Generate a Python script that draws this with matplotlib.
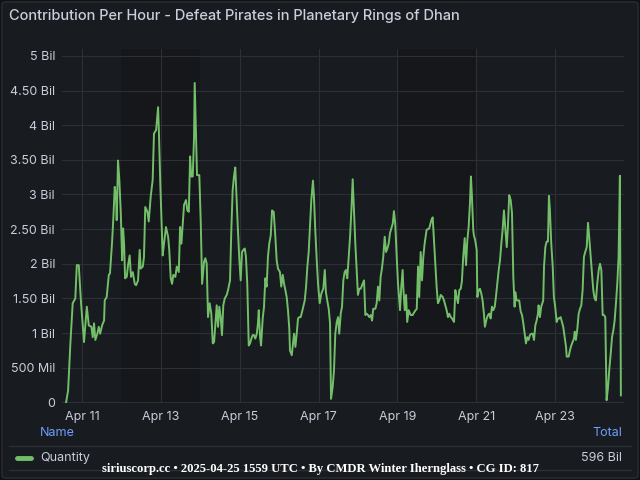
import matplotlib
matplotlib.use("Agg")
import matplotlib.pyplot as plt
import matplotlib.dates as mdates
from matplotlib.lines import Line2D
from matplotlib.patches import FancyBboxPatch
from datetime import datetime, timedelta

# hours since 2025-04-11 00:00, values in billions
hours = [
    -9.7, -8.5, -7.1, -5.7, -4.1, -3.2, -2.0, -0.6, 1.2, 2.9, 4.1, 5.7, 6.5, 7.3, 8.1, 9.3,
    10.2, 11.0, 12.2, 13.4, 13.8, 15.0, 16.3, 17.0, 18.3, 19.1, 19.9, 20.7, 21.1, 21.9, 22.7, 23.6,
    24.4, 25.0, 25.6, 26.2, 27.2, 28.0, 29.0, 29.8, 30.9, 32.1, 32.9, 34.1, 35.1, 35.7, 37.0, 37.7,
    38.5, 39.8, 40.6, 41.8, 43.0, 43.8, 45.1, 46.3, 46.7, 47.7, 49.1, 49.9, 51.1, 52.4, 53.1, 54.0,
    54.8, 55.6, 56.8, 57.7, 58.9, 59.7, 60.5, 61.3, 62.1, 63.3, 64.1, 65.0, 65.8, 66.5, 67.4, 68.2,
    68.6, 69.4, 70.0, 71.4, 72.3, 73.1, 74.3, 75.1, 75.9, 76.7, 77.7, 78.7, 79.6, 80.4, 81.2, 82.0,
    82.8, 83.6, 84.4, 85.2, 86.0, 86.9, 88.1, 88.9, 90.1, 90.9, 91.7, 92.5, 93.3, 94.2, 95.0, 95.8,
    96.6, 97.4, 98.2, 99.1, 99.8, 100.6, 101.5, 102.3, 103.1, 103.9, 104.7, 105.5, 106.4, 107.1, 107.6, 108.4,
    109.0, 110.0, 110.8, 111.6, 112.4, 113.2, 114.0, 114.9, 115.7, 116.7, 117.7, 118.5, 119.3, 120.5, 121.3, 122.2,
    123.0, 123.8, 124.6, 125.4, 126.2, 126.6, 127.7, 128.5, 129.1, 129.9, 130.7, 131.5, 132.3, 133.1, 133.9, 134.7,
    135.6, 136.4, 137.2, 138.0, 138.8, 139.6, 140.6, 141.2, 142.0, 142.9, 143.7, 144.7, 145.7, 146.9, 147.8, 148.5,
    149.3, 150.2, 151.0, 151.6, 152.6, 153.4, 154.2, 155.1, 155.9, 156.6, 157.5, 158.3, 159.1, 159.9, 160.7, 161.5,
    162.4, 163.2, 164.0, 164.8, 165.6, 166.4, 167.2, 168.0, 168.8, 169.7, 170.5, 171.7, 172.5, 173.3, 174.1, 174.9,
    175.8, 176.6, 177.3, 178.6, 179.4, 180.2, 181.0, 181.8, 182.6, 183.4, 184.3, 185.1, 185.9, 186.7, 187.5, 188.3,
    189.2, 189.9, 190.7, 191.6, 192.4, 193.6, 194.4, 195.2, 195.6, 196.5, 197.3, 198.0, 198.9, 200.1, 201.3, 202.5,
    203.8, 204.6, 205.3, 206.2, 207.0, 207.8, 208.6, 209.8, 210.6, 211.4, 212.7, 213.5, 214.3, 215.1, 215.9, 216.7,
    217.5, 218.4, 219.6, 220.4, 221.2, 222.0, 222.8, 223.6, 224.5, 225.3, 226.5, 227.3, 228.1, 228.9, 229.7, 230.6,
    231.3, 232.1, 233.0, 233.8, 234.6, 235.4, 236.2, 236.8, 237.4, 238.2, 238.6, 239.4, 240.3, 240.7, 241.5, 242.3,
    243.1, 243.9, 244.7, 245.3, 246.4, 247.2, 248.0, 248.8, 249.6, 250.4, 251.3, 252.0, 252.8, 253.7, 254.5, 255.3,
    256.1, 256.9, 257.7, 258.6, 259.3, 260.1, 261.0, 261.8, 262.6, 263.4, 263.8, 264.6, 265.4, 266.2, 267.1, 267.9,
    268.7, 269.5, 270.3, 271.1, 271.9, 272.7, 273.5, 274.4, 275.2, 276.0, 276.8, 277.6, 278.0, 278.8, 279.6, 280.8,
    281.3, 282.1, 282.9, 283.7, 284.3, 284.9, 285.7, 286.6, 287.3, 288.1, 289.0, 289.8, 290.6, 291.4, 292.2, 293.0,
    293.9, 294.7, 295.1, 296.3, 297.1, 297.9, 298.7, 299.5, 300.0, 300.7, 301.5, 302.4, 303.2, 304.0, 304.8, 305.6,
    306.4, 307.3, 308.1, 308.8, 309.7, 310.5, 311.3, 312.1, 312.9, 313.7, 314.6, 315.4, 316.2, 317.0, 317.8, 318.6,
    319.4, 320.2, 321.0, 321.9, 322.7, 323.5, 324.3, 325.1, 325.9, 326.7, 327.5, 328.1,
]
quantity = [
    0.00, 0.17, 0.85, 1.43, 1.50, 1.98, 1.98, 1.43, 0.87, 1.38, 1.11, 1.09, 0.94, 1.14, 0.90, 0.99,
    1.09, 0.99, 1.11, 1.18, 1.47, 1.52, 1.84, 1.86, 2.32, 2.68, 3.11, 2.97, 2.63, 3.49, 3.21, 2.73,
    2.05, 2.51, 2.29, 1.79, 1.81, 1.98, 2.12, 1.81, 1.88, 1.71, 1.69, 1.76, 2.20, 1.93, 1.96, 2.10,
    2.82, 2.75, 2.61, 2.97, 3.21, 3.88, 3.93, 4.26, 3.98, 3.11, 2.12, 2.29, 2.53, 2.39, 2.20, 1.79,
    1.71, 1.84, 1.81, 1.96, 1.88, 2.53, 2.29, 2.58, 2.85, 2.92, 2.77, 2.75, 3.55, 3.26, 3.26, 3.83,
    4.61, 3.83, 3.28, 3.28, 2.58, 1.71, 2.03, 2.08, 2.00, 1.23, 1.43, 1.28, 0.85, 0.87, 1.14, 1.40,
    1.09, 1.38, 1.23, 0.97, 1.40, 1.50, 1.55, 1.62, 1.76, 2.49, 3.06, 3.26, 3.39, 2.87, 2.44, 2.05,
    1.76, 2.17, 2.20, 2.22, 2.10, 1.71, 0.82, 0.85, 0.92, 0.97, 0.97, 0.92, 0.99, 1.14, 1.33, 0.94,
    0.82, 1.21, 1.38, 1.79, 1.67, 2.10, 2.29, 2.41, 2.77, 2.75, 2.39, 2.05, 1.93, 1.88, 1.67, 1.84,
    1.71, 1.62, 1.52, 1.33, 1.06, 0.75, 0.68, 0.85, 0.99, 0.80, 0.99, 1.21, 1.23, 1.23, 1.30, 1.38,
    1.47, 1.67, 1.96, 2.17, 2.53, 2.92, 3.20, 2.97, 2.49, 2.05, 1.71, 1.43, 1.57, 1.64, 1.91, 1.59,
    1.47, 1.35, 1.14, 0.05, 0.22, 0.46, 0.99, 1.16, 1.23, 0.99, 1.28, 1.38, 1.76, 1.88, 1.91, 1.79,
    2.10, 2.39, 2.77, 3.22, 2.77, 2.29, 1.91, 1.55, 1.64, 1.64, 1.69, 1.76, 1.26, 1.28, 1.26, 1.23,
    1.26, 1.18, 1.35, 1.35, 1.43, 1.67, 1.47, 1.81, 1.93, 2.10, 2.39, 2.17, 2.22, 2.29, 2.44, 2.51,
    2.58, 2.76, 2.58, 2.10, 1.71, 1.33, 1.67, 1.91, 1.67, 1.33, 1.55, 1.16, 1.33, 1.26, 1.26, 1.31,
    1.35, 1.96, 1.52, 2.17, 1.76, 2.10, 2.29, 2.49, 2.50, 2.51, 2.63, 2.67, 2.34, 2.00, 1.67, 1.43,
    1.47, 1.55, 1.52, 1.47, 1.40, 1.33, 1.23, 1.28, 1.23, 1.21, 1.16, 1.62, 1.52, 1.43, 1.62, 1.64,
    1.75, 2.10, 2.37, 1.98, 2.34, 2.53, 2.87, 3.26, 2.97, 2.49, 2.41, 2.34, 2.20, 1.52, 1.62, 1.64,
    1.57, 1.47, 1.28, 1.09, 1.21, 1.26, 1.28, 1.21, 1.38, 1.33, 1.38, 1.52, 1.71, 1.91, 2.05, 2.29,
    2.49, 2.77, 2.53, 2.24, 2.53, 2.99, 2.92, 2.73, 1.81, 1.38, 1.59, 1.47, 1.47, 1.47, 1.31, 1.26,
    1.14, 0.99, 0.85, 0.94, 0.90, 0.97, 0.99, 0.99, 0.90, 1.11, 1.18, 1.28, 1.40, 1.23, 1.38, 1.47,
    1.96, 2.24, 2.32, 2.32, 2.98, 2.77, 2.29, 1.96, 1.52, 1.38, 1.16, 1.21, 1.21, 1.23, 1.16, 1.09,
    0.94, 0.80, 0.66, 0.66, 0.75, 0.82, 0.87, 0.92, 1.02, 0.90, 1.04, 1.28, 1.35, 1.40, 1.62, 2.10,
    2.17, 2.24, 2.59, 2.39, 2.10, 1.86, 1.62, 1.50, 1.47, 1.71, 1.91, 2.00, 1.91, 1.26, 1.26, 1.23,
    0.03, 0.20, 0.46, 0.70, 0.94, 1.04, 1.18, 1.43, 1.71, 2.10, 3.27, 0.10,
]

weekends = [("2025-04-12", "2025-04-14"), ("2025-04-19", "2025-04-21")]
yticks = [0, 0.5, 1, 1.5, 2, 2.5, 3, 3.5, 4, 4.5, 5]
ylabels = ["0", "500 Mil", "1 Bil", "1.50 Bil", "2 Bil", "2.50 Bil",
           "3 Bil", "3.50 Bil", "4 Bil", "4.50 Bil", "5 Bil"]
series_name = "Quantity"
total = "596 Bil"

plt.rcParams["font.family"] = ["Inter", "DejaVu Sans"]

bg = "#181b1f"
txt = "#ccccdc"
grid_c = "#2c2f35"
green = "#73bf69"

start = datetime(2025, 4, 11)
times = [start + timedelta(hours=h) for h in hours]

fig = plt.figure(figsize=(6.4, 4.8), dpi=100, facecolor="#111217")
panel = FancyBboxPatch((0.003, 0.004), 0.994, 0.992, boxstyle="round,pad=0,rounding_size=0.006",
                       transform=fig.transFigure, facecolor=bg, edgecolor="#2a2d33", lw=1, zorder=-5)
fig.patches.append(panel)

ax = fig.add_axes([0.0969, 0.1604, 0.8781, 0.7375])
ax.set_facecolor(bg)
for a, b in weekends:
    ax.axvspan(datetime.fromisoformat(a), datetime.fromisoformat(b), color="#15171b", lw=0, zorder=0)

ax.plot(times, quantity, color=green, lw=1.4, zorder=3)

ax.set_xlim(start - timedelta(hours=12.2), start + timedelta(hours=330))
ax.set_ylim(-0.01, 5.1)
ax.set_yticks(yticks)
ax.set_yticklabels(ylabels)
ax.xaxis.set_major_locator(mdates.DayLocator(bymonthday=[11, 13, 15, 17, 19, 21, 23]))
ax.xaxis.set_major_formatter(mdates.DateFormatter("%b %d"))
ax.grid(True, color=grid_c, lw=0.8)
ax.set_axisbelow(True)
ax.tick_params(colors=txt, labelsize=9, length=0)
ax.tick_params(axis="y", pad=5)
ax.tick_params(axis="x", pad=6)
for s in ax.spines.values():
    s.set_visible(False)

fig.text(0.014, 0.966, "Contribution Per Hour - Defeat Pirates in Planetary Rings of Dhan",
         color=txt, fontsize=10.5, fontweight="medium", va="center", ha="left")

# legend table
fig.text(40 / 640, 1 - 433 / 480, "Name", color="#6e9fff", fontsize=9, va="center")
fig.text(622 / 640, 1 - 433 / 480, "Total", color="#6e9fff", fontsize=9, va="center", ha="right")
fig.add_artist(Line2D([9 / 640, 631 / 640], [1 - 446 / 480] * 2, color=grid_c, lw=1))
fig.add_artist(Line2D([17 / 640, 31 / 640], [1 - 458 / 480] * 2, color=green, lw=3.5, solid_capstyle="round"))
fig.text(40 / 640, 1 - 458 / 480, series_name, color=txt, fontsize=9, va="center")
fig.text(622 / 640, 1 - 458 / 480, total, color=txt, fontsize=9, va="center", ha="right")
fig.add_artist(Line2D([9 / 640, 631 / 640], [1 - 470 / 480] * 2, color=grid_c, lw=1))

fig.text(0.5, 1 - 469 / 480, "siriuscorp.cc \u2022 2025-04-25 1559 UTC \u2022 By CMDR Winter Ihernglass \u2022 CG ID: 817",
         color="white", fontsize=9.1, fontweight="bold", family=["Liberation Serif", "DejaVu Serif"],
         ha="center", va="center")

fig.savefig("out.png", dpi=100, facecolor=fig.get_facecolor())
